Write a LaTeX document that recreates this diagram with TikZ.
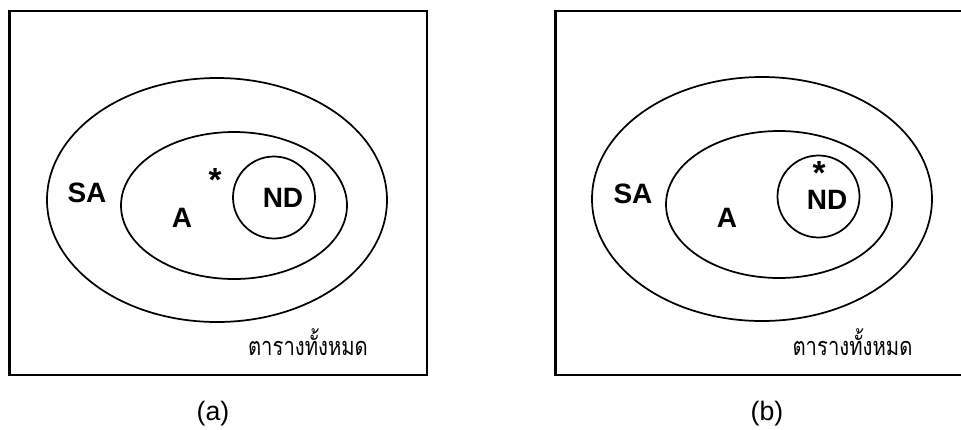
\documentclass[tikz,border=0pt]{standalone}
\usepackage{fontspec}
\setmainfont{Liberation Sans}
\newfontfamily\thaifont[Script=Thai]{Loma}
\usetikzlibrary{shapes.geometric}
\begin{document}
\begin{tikzpicture}[x=0.75pt,y=-0.75pt,
  frame/.style={draw, line width=1.8pt},
  set/.style={draw, line width=1.3pt, ellipse, inner sep=0pt},
  lbl/.style={font=\fontsize{21}{24}\selectfont\bfseries, inner sep=0pt},
  star/.style={font=\fontsize{25}{28}\selectfont\bfseries, inner sep=0pt,
    text height=0.72em, text depth=-0.38em},
  thai/.style={font=\fontsize{19}{24}\thaifont, inner sep=0pt, anchor=base, xscale=0.8},
  caption/.style={font=\fontsize{20}{24}\selectfont, inner sep=0pt}]
\useasboundingbox (0,0) rectangle (961,429);
\clip (0,0) rectangle (961,429);
% panel (a)
\draw[frame] (9.5,11) rectangle (427,375);
\node[set, minimum width=255pt, minimum height=183pt] (saA) at (217,200) {};
\node[set, minimum width=169.5pt, minimum height=110.25pt] (aA) at (234,205.5) {};
\node[set, circle, minimum size=61.5pt] (ndA) at (274,197.5) {};
\node[lbl] (saLA) at (87,193) {SA};
\node[lbl] (aLA) at (182,218) {A};
\node[lbl] (ndLA) at (283,198) {ND};
\node[star] (starA) at (215,187) {*};
\node[thai] (allA) at (308,355) {ตารางทั้งหมด};
\node[caption] (capA) at (213,414) {(a)};
% panel (b)
\draw[frame] (555.5,11) rectangle (966,375);
\node[set, minimum width=255pt, minimum height=183pt] (saB) at (762,199) {};
\node[set, minimum width=169.5pt, minimum height=110.25pt] (aB) at (779,204.5) {};
\node[set, circle, minimum size=61.5pt] (ndB) at (818.5,196.5) {};
\node[lbl] (saLB) at (633,194) {SA};
\node[lbl] (aLB) at (727,218) {A};
\node[lbl] (ndLB) at (827,199.5) {ND};
\node[star] (starB) at (819,179.5) {*};
\node[thai] (allB) at (852.5,355) {ตารางทั้งหมด};
\node[caption] (capB) at (767,414) {(b)};
\end{tikzpicture}
\end{document}
